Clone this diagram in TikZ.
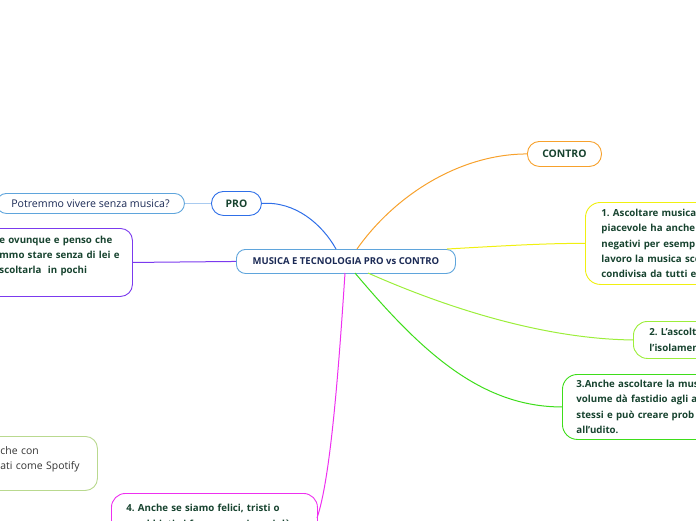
\documentclass[tikz,border=0pt]{standalone}
\usepackage{fontspec}
\setmainfont{Open Sans}
\frenchspacing
\definecolor{txtgreen}{HTML}{17432F}
\definecolor{txtnavy}{HTML}{1B2A55}
\definecolor{cblue}{HTML}{2F6FE8}
\definecolor{clblue}{HTML}{5FA5DC}
\definecolor{cpale}{HTML}{A9CBF0}
\definecolor{corange}{HTML}{F7A12C}
\definecolor{cyellow}{HTML}{F0F010}
\definecolor{cgreenA}{HTML}{9CEE3A}
\definecolor{cgreenB}{HTML}{3EDD1A}
\definecolor{cmagenta}{HTML}{EE30F0}
\definecolor{cpurple}{HTML}{7B3AEE}
\definecolor{colive}{HTML}{B9D98F}
\tikzset{
  mbox/.style={draw=#1, line width=0.9pt, fill=white, rounded corners=12pt, inner sep=0pt, align=left, text=txtgreen},
  conn/.style={draw=#1, line width=1pt},
  bt/.style={font=\fontsize{9.7}{15.4}\selectfont\bfseries},
  lt/.style={font=\fontsize{10.4}{12}\selectfont\bfseries},
}
\begin{document}
\begin{tikzpicture}[x=1pt,y=-1pt]
\useasboundingbox (0,0) rectangle (696,520);
% central
\node[mbox=clblue, rounded corners=9pt, minimum width=219, minimum height=24, anchor=north west, align=center, text=txtnavy, font=\fontsize{9.5}{10}\selectfont\bfseries] (c) at (236,249) {MUSICA E TECNOLOGIA PRO vs CONTRO};
% PRO
\node[mbox=cblue, minimum width=50, minimum height=24, anchor=north west, align=center, lt] (pro) at (211,191) {PRO};
% potremmo
\node[mbox=clblue, rounded corners=10pt, minimum width=188, minimum height=20, anchor=north west, align=center, text=txtnavy, font=\fontsize{10.6}{12}\selectfont] (pot) at (-4,193) {Potremmo vivere senza musica?};
% purple
\node[mbox=cpurple, minimum width=150, minimum height=68, anchor=north west, bt, text width=148, inner xsep=0pt] (pur) at (-18,228) {\hspace{16pt}e ovunque e penso che\\\hspace{16pt}mmo stare senza di lei e\\\hspace{16pt}scoltarla\ \ in pochi\\\mbox{}};
% olive bottom-left
\node[mbox=colive, minimum width=115, minimum height=54, anchor=north west, text width=113, text=black!80, font=\fontsize{10.4}{15.4}\selectfont] (oli) at (-18,436) {\hspace{17pt}che con\\\hspace{17pt}ati come Spotify\\[-4pt]\mbox{}};
% magenta
\node[mbox=cmagenta, rounded corners=14pt, minimum width=206, minimum height=60, anchor=north west, bt, text width=204] (mag) at (111,493) {\hspace{14pt}4. Anche se siamo felici, tristi o\\\hspace{14pt}arrabbiati ci fa compagnia e ci dà\\\mbox{}};
% CONTRO
\node[mbox=corange, minimum width=74, minimum height=25, anchor=north west, align=center, lt] (contro) at (527,141) {CONTRO};
% yellow
\node[mbox=cyellow, rounded corners=15pt, minimum width=180, minimum height=82, anchor=north west, bt, text width=178] (y1) at (585,202) {\hspace{15pt}1. Ascoltare musica \\\hspace{15pt}piacevole ha anche\\\hspace{15pt}negativi per esemp\\\hspace{15pt}lavoro la musica sce\\\hspace{15pt}condivisa da tutti e};
% green 2
\node[mbox=cgreenA, rounded corners=14pt, minimum width=120, minimum height=37, anchor=north west, bt, text width=118] (g2) at (633,321) {\hspace{15pt}2. L'ascolt\\\hspace{15pt}l'isolamen};
% green 3
\node[mbox=cgreenB, rounded corners=15pt, minimum width=180, minimum height=65, anchor=north west, bt, text width=178] (g3) at (562,374) {\hspace{13pt}3.Anche ascoltare la mus\\\hspace{13pt}volume dà fastidio agli a\\\hspace{13pt}stessi e può creare prob\\\hspace{13pt}all'udito.};
% connectors
\draw[conn=cpale] (pro.west) -- (pot.east);
\coordinate (cb) at (336,249);
\draw[conn=cblue] (pro.east) .. controls (295,201) and (322,224) .. (cb);
\coordinate (co) at (357,249);
\draw[conn=corange] (co) .. controls (395,195) and (460,154) .. (contro.west);
\coordinate (cy) at (447,249);
\draw[conn=cyellow] (cy) .. controls (500,246) and (550,243) .. (y1.west);
\draw[conn=cpurple] (c.west) -- (pur.east);
\coordinate (cg2) at (368,273);
\draw[conn=cgreenA] (cg2) .. controls (440,305) and (540,339) .. (g2.west);
\coordinate (cg3) at (355,273);
\draw[conn=cgreenB] (cg3) .. controls (420,350) and (480,407) .. (g3.west);
\coordinate (cm) at (345,273);
\coordinate (me) at (317,518);
\draw[conn=cmagenta] (cm) .. controls (338,380) and (330,480) .. (me);
\end{tikzpicture}
\end{document}
